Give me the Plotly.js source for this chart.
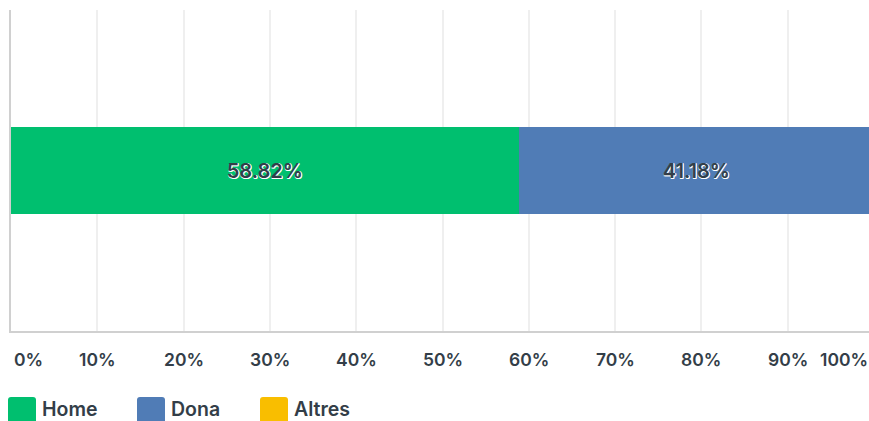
<!DOCTYPE html>
<html>
<head>
<meta charset="utf-8">
<script src="https://cdn.plot.ly/plotly-3.0.1.min.js"></script>
<style>
html,body{margin:0;padding:0;overflow:hidden;background:#fff;}
#chart{width:874px;height:421px;}
</style>
</head>
<body>
<div id="chart"></div>
<script>
var categories = ["Home", "Dona", "Altres"];
var values = [58.82, 41.18, 0];
var colors = ["#00bf6f", "#507cb6", "#f9be00"];
var tickVals = [0, 10, 20, 30, 40, 50, 60, 70, 80, 90, 100];
var tickLabels = ["0%", "10%", "20%", "30%", "40%", "50%", "60%", "70%", "80%", "90%", "100%"];

var W = 874, H = 421, ML = 11, MT = 10, MB = 90, MR = 0;
var PW = W - ML - MR, PH = H - MT - MB;
function px2x(p){ return (p - ML) / PW; }
function py2y(p){ return (H - MB - p) / PH; }

var txtColor = "#333e48";
var fontFam = "Inter, Roboto, 'Open Sans', sans-serif";

var traces = categories.map(function(c, i){
  return {
    type: "bar",
    orientation: "h",
    name: c,
    y: ["Q"],
    x: [values[i]],
    marker: {color: colors[i], line: {width: 0}},
    text: values[i] > 0 ? [values[i].toFixed(2) + "%"] : [""],
    textposition: "inside",
    insidetextanchor: "middle",
    textangle: 0,
    textfont: {family: fontFam, size: 20, color: txtColor, weight: 600, shadow: "1px 1px 0px #ffffff, 1px 0px 0px #ffffff, 0px 1px 0px #ffffff"},
    hoverinfo: "none",
    showlegend: false
  };
});

var annotations = tickVals.map(function(v, i){
  var anchor = "center", shift = 0;
  if (i === 0) { anchor = "left"; shift = 1; }
  if (i === tickVals.length - 1) { anchor = "right"; shift = -4; }
  return {
    x: v, xref: "x", y: py2y(360), yref: "paper",
    text: tickLabels[i], showarrow: false,
    xanchor: anchor, yanchor: "middle", xshift: shift,
    font: {family: fontFam, size: 17.5, color: txtColor, weight: 600}
  };
});

var legendX = [8, 137, 260];
var shapes = [];
var r = 3;
categories.forEach(function(c, i){
  var x0 = legendX[i], x1 = x0 + 28, y0 = 397, y1 = 425;
  var path = "M" + px2x(x0 + r) + "," + py2y(y0) +
    " L" + px2x(x1 - r) + "," + py2y(y0) +
    " Q" + px2x(x1) + "," + py2y(y0) + " " + px2x(x1) + "," + py2y(y0 + r) +
    " L" + px2x(x1) + "," + py2y(y1 - r) +
    " Q" + px2x(x1) + "," + py2y(y1) + " " + px2x(x1 - r) + "," + py2y(y1) +
    " L" + px2x(x0 + r) + "," + py2y(y1) +
    " Q" + px2x(x0) + "," + py2y(y1) + " " + px2x(x0) + "," + py2y(y1 - r) +
    " L" + px2x(x0) + "," + py2y(y0 + r) +
    " Q" + px2x(x0) + "," + py2y(y0) + " " + px2x(x0 + r) + "," + py2y(y0) + " Z";
  shapes.push({type: "path", xref: "paper", yref: "paper", path: path,
    fillcolor: colors[i], line: {width: 0}});
  annotations.push({
    x: px2x(x1 + 4), xref: "paper", y: py2y(409), yref: "paper",
    text: c, showarrow: false, xanchor: "left", yanchor: "middle",
    font: {family: fontFam, size: 19.5, color: txtColor, weight: 600}
  });
});

var layout = {
  width: W, height: H,
  margin: {l: ML, r: MR, t: MT, b: MB, pad: 0},
  paper_bgcolor: "#ffffff", plot_bgcolor: "#ffffff",
  barmode: "stack",
  bargap: 0.732,
  showlegend: false,
  xaxis: {
    range: [0, 100], tickvals: tickVals, showticklabels: false,
    showgrid: true, gridcolor: "#efefef", gridwidth: 2,
    zeroline: false, showline: true, linecolor: "#d0d0d0", linewidth: 2,
    ticks: "", fixedrange: true
  },
  yaxis: {
    showticklabels: false, showgrid: false, zeroline: false,
    showline: true, linecolor: "#d0d0d0", linewidth: 2, ticks: "", fixedrange: true
  },
  annotations: annotations,
  shapes: shapes
};

Plotly.newPlot("chart", traces, layout, {displayModeBar: false, staticPlot: true});
</script>
</body>
</html>
